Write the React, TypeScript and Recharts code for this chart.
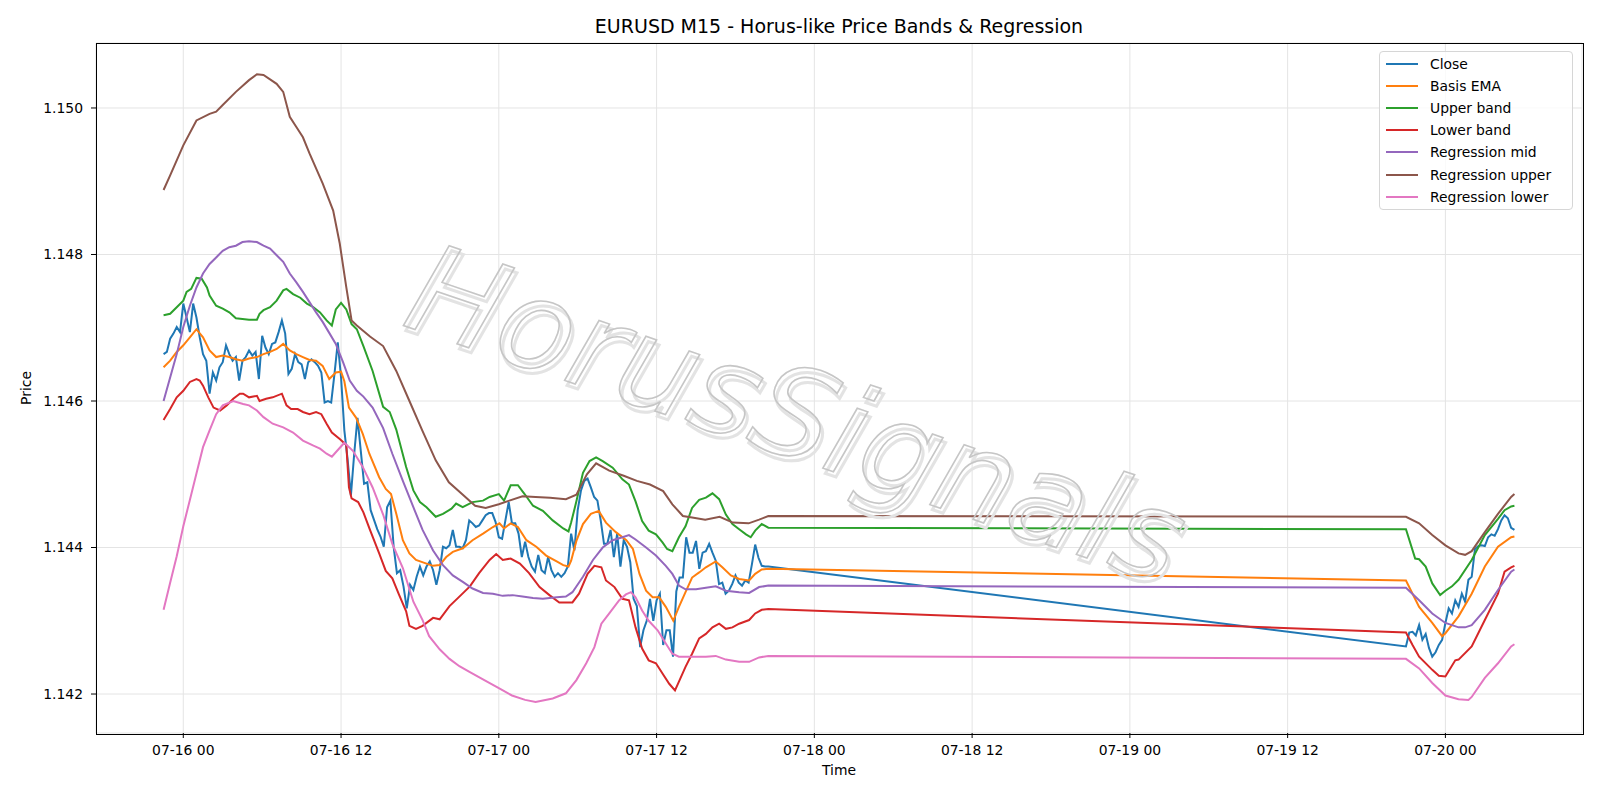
import React from 'react';
import { LineChart, Line, XAxis, YAxis, CartesianGrid } from 'recharts';

// x = hours since 07-16 00:00, y = price
const closeSeries: [number, number][] = [
  [-1.5, 1.14664], [-1.25, 1.14667], [-1, 1.14685], [-0.75, 1.14692], [-0.5, 1.14701], [-0.25, 1.14694],
  [0, 1.14733], [0.25, 1.14714], [0.5, 1.14694], [0.75, 1.14733], [1, 1.14714], [1.25, 1.14687], [1.5, 1.14664], [1.75, 1.14655],
  [2, 1.1461], [2.25, 1.14639], [2.5, 1.14628], [2.75, 1.14646], [3, 1.14653], [3.25, 1.14676], [3.5, 1.14664], [3.75, 1.14655],
  [4, 1.1466], [4.25, 1.14628], [4.5, 1.14655], [4.75, 1.1466], [5, 1.14669], [5.25, 1.14662], [5.5, 1.14667], [5.75, 1.1463],
  [6, 1.14689], [6.25, 1.14673], [6.5, 1.14664], [6.75, 1.14678], [7, 1.1468], [7.25, 1.14694], [7.5, 1.1471], [7.75, 1.14692],
  [8, 1.14637], [8.25, 1.14644], [8.5, 1.14664], [8.75, 1.14653], [9, 1.1465], [9.25, 1.1463], [9.5, 1.14653], [9.75, 1.14657],
  [10, 1.14653], [10.25, 1.14648], [10.5, 1.14639], [10.75, 1.14598], [11, 1.146], [11.25, 1.14598], [11.5, 1.14637], [11.75, 1.1468],
  [12, 1.14632], [12.25, 1.1456], [12.5, 1.1452], [12.75, 1.14471], [13, 1.14528], [13.25, 1.14577], [13.5, 1.14532], [13.75, 1.14487],
  [14, 1.14489], [14.25, 1.14451], [14.5, 1.14438], [14.75, 1.14425], [15, 1.14415], [15.25, 1.14401], [15.5, 1.14455], [15.75, 1.14464],
  [16, 1.14401], [16.25, 1.14365], [16.5, 1.14369], [16.75, 1.14347], [17, 1.14317], [17.25, 1.14349], [17.5, 1.14342], [17.75, 1.1436],
  [18, 1.14374], [18.25, 1.14362], [18.5, 1.14374], [18.75, 1.14381], [19, 1.14369], [19.25, 1.14349], [19.5, 1.14369], [19.75, 1.14401],
  [20, 1.14399], [20.25, 1.14403], [20.5, 1.14424], [20.75, 1.14401], [21, 1.14401], [21.25, 1.14399], [21.5, 1.1441], [21.75, 1.14437],
  [22, 1.14433], [22.25, 1.14428], [22.5, 1.1443], [22.75, 1.14437], [23, 1.14444], [23.25, 1.14447], [23.5, 1.14447], [23.75, 1.14435],
  [24, 1.14414], [24.25, 1.14412], [24.5, 1.14437], [24.75, 1.14462], [25, 1.14433], [25.25, 1.14433], [25.5, 1.14419], [25.75, 1.14387],
  [26, 1.14408], [26.25, 1.14387], [26.5, 1.14374], [26.75, 1.14367], [27, 1.1439], [27.25, 1.14369], [27.5, 1.14365], [27.75, 1.14387],
  [28, 1.14369], [28.25, 1.1436], [28.5, 1.14365], [28.75, 1.1436], [29, 1.14365], [29.25, 1.14374], [29.5, 1.14419], [29.75, 1.14396],
  [30, 1.14451], [30.25, 1.14478], [30.5, 1.14491], [30.75, 1.14494], [31, 1.14482], [31.25, 1.14469], [31.5, 1.14464], [31.75, 1.14437],
  [32, 1.14405], [32.25, 1.14405], [32.5, 1.14424], [32.75, 1.14387], [33, 1.14419], [33.25, 1.14374], [33.5, 1.1441], [33.75, 1.14401],
  [34, 1.1438], [34.25, 1.1433], [34.5, 1.1432], [34.75, 1.14264], [35, 1.14287], [35.25, 1.143], [35.5, 1.1433], [35.75, 1.143],
  [36, 1.14328], [36.25, 1.14337], [36.5, 1.14267], [36.75, 1.14287], [37, 1.14287], [37.25, 1.14251], [37.5, 1.1434], [37.75, 1.14359],
  [38, 1.14359], [38.25, 1.14414], [38.5, 1.14393], [38.75, 1.14393], [39, 1.14409], [39.25, 1.14371], [39.5, 1.14393], [39.75, 1.14395],
  [40, 1.14405], [40.25, 1.14393], [40.5, 1.14382], [40.75, 1.1435], [41, 1.14352], [41.25, 1.14337], [41.5, 1.14341], [41.75, 1.1435],
  [42, 1.14362], [42.25, 1.14352], [42.5, 1.14348], [42.75, 1.14355], [43, 1.14352], [43.25, 1.14377], [43.5, 1.14404], [43.75, 1.14386],
  [44, 1.14375], [44.25, 1.14374], [44.5, 1.14374],
  [93, 1.14265], [93.25, 1.14284], [93.5, 1.14285], [93.75, 1.1428], [94, 1.14294], [94.25, 1.14274], [94.5, 1.14282], [94.75, 1.14263],
  [95, 1.14251], [95.25, 1.14257], [95.5, 1.14267], [95.75, 1.14274], [96, 1.14297], [96.25, 1.14317], [96.5, 1.1431], [96.75, 1.14328],
  [97, 1.14319], [97.25, 1.14337], [97.5, 1.14326], [97.75, 1.14356], [98, 1.1436], [98.25, 1.14398], [98.5, 1.14402], [98.75, 1.14403],
  [99, 1.14402], [99.25, 1.14414], [99.5, 1.14418], [99.75, 1.14416], [100, 1.14425], [100.25, 1.14437], [100.5, 1.14444], [100.75, 1.1444],
  [101, 1.14427], [101.25, 1.14424],
];

const basisEma: [number, number][] = [
  [-1.5, 1.14646], [-1, 1.14655], [-0.5, 1.14667], [0, 1.14676], [0.5, 1.14687], [1, 1.14698], [1.5, 1.14687], [2, 1.14669],
  [2.5, 1.1466], [3, 1.14662], [3.5, 1.1466], [4, 1.14657], [4.5, 1.14655], [5, 1.14658], [5.6, 1.1466], [6.1, 1.14664],
  [6.6, 1.14667], [7.1, 1.14671], [7.6, 1.14678], [8.1, 1.14669], [8.6, 1.14664], [9.1, 1.1466], [9.6, 1.14656], [10.1, 1.14655],
  [10.6, 1.14648], [11.1, 1.1463], [11.6, 1.14639], [12, 1.1464], [12.25, 1.14627], [12.6, 1.14591], [13.15, 1.14577], [13.65, 1.14555],
  [14.15, 1.14528], [14.9, 1.14496], [15.4, 1.1448], [15.8, 1.14473], [16.2, 1.14446], [16.7, 1.1441], [17.2, 1.14392], [17.7, 1.14383],
  [18.5, 1.14378], [19, 1.14375], [19.5, 1.14376], [20, 1.14387], [20.5, 1.14394], [21.26, 1.14399], [22, 1.1441], [22.8, 1.14419],
  [23.55, 1.14428], [24.05, 1.14433], [24.4, 1.14426], [24.9, 1.14433], [25.45, 1.14428], [26.1, 1.1441], [26.85, 1.14401], [27.6, 1.14389],
  [28.4, 1.14381], [28.9, 1.14376], [29.3, 1.14374], [29.5, 1.14382], [29.9, 1.14409], [30.4, 1.14432], [31, 1.14446], [31.6, 1.1445],
  [32.15, 1.14434], [32.9, 1.14421], [33.7, 1.1441], [34.2, 1.14398], [34.7, 1.14364], [35.2, 1.14341], [35.7, 1.14332], [36.2, 1.14332],
  [36.7, 1.14319], [37.27, 1.143], [37.7, 1.14319], [38.2, 1.14339], [38.7, 1.14359], [39.24, 1.14366], [39.75, 1.14373], [40.5, 1.14381],
  [41, 1.14373], [41.65, 1.14362], [42.28, 1.14357], [43.04, 1.14355], [43.5, 1.14364], [44, 1.1437], [44.5, 1.14371],
  [93, 1.14355], [94, 1.14319], [95, 1.14297], [95.75, 1.14279], [96, 1.14283], [97, 1.14306], [98, 1.14337], [99, 1.14374],
  [100, 1.14401], [101, 1.14414], [101.25, 1.14415],
];

const upperBand: [number, number][] = [
  [-1.5, 1.14717], [-1, 1.14719], [-0.5, 1.14728], [0, 1.14737], [0.25, 1.14749], [0.6, 1.14753], [1, 1.14768], [1.4, 1.14767],
  [1.8, 1.14755], [2, 1.14744], [2.5, 1.1473], [3, 1.14726], [3.5, 1.14721], [4, 1.14713], [4.5, 1.14712], [5, 1.14711],
  [5.6, 1.14711], [5.8, 1.14719], [6.1, 1.14724], [6.6, 1.14728], [7.1, 1.14737], [7.6, 1.14751], [7.85, 1.14753], [8.35, 1.14746],
  [8.9, 1.14741], [9.4, 1.14733], [9.9, 1.14728], [10.4, 1.14721], [10.9, 1.1471], [11.3, 1.14703], [11.6, 1.14725], [12, 1.14734],
  [12.4, 1.14725], [12.8, 1.14705], [13.2, 1.14698], [13.7, 1.14675], [14.4, 1.14641], [15.2, 1.14592], [15.7, 1.14585], [16.2, 1.14561],
  [16.95, 1.1451], [17.5, 1.14478], [18, 1.14462], [18.5, 1.14455], [19.2, 1.14442], [19.75, 1.14446], [20.4, 1.14453], [20.75, 1.1446],
  [21.25, 1.14455], [22, 1.14462], [22.8, 1.14464], [23.3, 1.14469], [24, 1.14473], [24.4, 1.14464], [24.9, 1.14485], [25.45, 1.14485],
  [25.96, 1.14473], [26.6, 1.14457], [27.35, 1.1445], [28.1, 1.14437], [28.9, 1.14426], [29.3, 1.14422], [29.5, 1.14434], [29.9, 1.14463],
  [30.4, 1.14502], [30.9, 1.14518], [31.4, 1.14523], [31.9, 1.14518], [32.66, 1.14509], [33.4, 1.14493], [33.9, 1.14486], [34.4, 1.14463],
  [34.9, 1.14436], [35.4, 1.14423], [35.95, 1.14418], [36.45, 1.14407], [36.8, 1.14398], [37.2, 1.14395], [37.7, 1.14414], [38.2, 1.14429],
  [38.7, 1.14454], [39.24, 1.14465], [39.75, 1.14468], [40.25, 1.14474], [40.76, 1.14466], [41.27, 1.14445], [41.77, 1.14432], [42.28, 1.14425],
  [42.8, 1.14418], [43.16, 1.14414], [43.5, 1.14423], [44, 1.14432], [44.5, 1.14427],
  [93, 1.14425], [93.7, 1.14385], [94, 1.14384], [94.5, 1.14374], [95, 1.14351], [95.6, 1.14335], [96, 1.14341], [96.5, 1.14347],
  [97, 1.14356], [98, 1.14383], [99, 1.14417], [100, 1.14439], [100.5, 1.14451], [101, 1.14456], [101.25, 1.14457],
];

const lowerBand: [number, number][] = [
  [-1.5, 1.14574], [-1, 1.14589], [-0.5, 1.14605], [0, 1.14614], [0.5, 1.14626], [1, 1.1463], [1.25, 1.14628], [1.5, 1.14621],
  [1.9, 1.14605], [2.3, 1.14591], [2.8, 1.14587], [3.3, 1.14594], [3.8, 1.14603], [4.3, 1.1461], [4.55, 1.1461], [5, 1.14605],
  [5.6, 1.14607], [5.8, 1.146], [6.3, 1.14603], [6.8, 1.14605], [7.5, 1.1461], [7.85, 1.14594], [8.2, 1.14589], [8.7, 1.14589],
  [9.1, 1.14585], [9.6, 1.14582], [10.1, 1.14585], [10.5, 1.14582], [10.9, 1.14569], [11.3, 1.14557], [11.9, 1.14548], [12.4, 1.1454],
  [12.6, 1.14482], [12.8, 1.14467], [13.3, 1.14462], [13.7, 1.14448], [14.2, 1.14424], [14.9, 1.14392], [15.4, 1.14368], [15.9, 1.14358],
  [16.4, 1.14336], [16.95, 1.14313], [17.2, 1.14293], [17.7, 1.14289], [18.2, 1.14293], [19, 1.14304], [19.5, 1.14302], [20.25, 1.1432],
  [21, 1.14333], [21.8, 1.14347], [22.5, 1.14365], [23.3, 1.14383], [23.8, 1.14391], [24.3, 1.14383], [24.9, 1.14385], [25.6, 1.14378],
  [26.3, 1.14365], [27.1, 1.14346], [27.85, 1.14335], [28.6, 1.14325], [29.6, 1.14325], [30.1, 1.14337], [30.75, 1.14364], [31.27, 1.14375],
  [31.8, 1.14373], [32.15, 1.14355], [32.8, 1.14346], [33.4, 1.1433], [33.9, 1.14328], [34.4, 1.14291], [34.9, 1.14262], [35.4, 1.14246],
  [35.95, 1.14242], [36.45, 1.14228], [36.96, 1.14214], [37.4, 1.14205], [37.7, 1.14217], [38.2, 1.14237], [38.7, 1.14255], [39.24, 1.14276],
  [39.75, 1.14282], [40.25, 1.14291], [40.76, 1.14296], [41.27, 1.14289], [41.77, 1.14291], [42.28, 1.14296], [43.04, 1.14301], [43.5, 1.1431],
  [44, 1.14315], [44.5, 1.14316],
  [93, 1.14284], [93.5, 1.14267], [94, 1.14251], [95, 1.14233], [95.5, 1.14225], [96, 1.14224], [96.75, 1.14246], [97, 1.14247],
  [98, 1.14265], [99, 1.14301], [100, 1.14337], [100.5, 1.14367], [101, 1.14373], [101.25, 1.14375],
];

const regMid: [number, number][] = [
  [-1.5, 1.146], [-0.5, 1.14664], [0, 1.14701], [0.5, 1.1473], [1, 1.14755], [1.5, 1.14774], [2, 1.14787], [2.5, 1.14796],
  [3, 1.14805], [3.5, 1.1481], [4, 1.14812], [4.5, 1.14817], [5, 1.14818], [5.6, 1.14817], [6.1, 1.14812], [6.6, 1.14808],
  [7.1, 1.14799], [7.6, 1.1479], [8.1, 1.14774], [8.6, 1.14762], [9.1, 1.14749], [9.6, 1.14735], [10.1, 1.14721], [10.6, 1.14708],
  [11.1, 1.14693], [11.6, 1.14678], [12.15, 1.14653], [12.66, 1.14628], [13.2, 1.14614], [13.7, 1.14606], [14.4, 1.14591], [15.2, 1.14563],
  [15.9, 1.14528], [16.7, 1.14491], [17.5, 1.14455], [18.2, 1.14424], [19, 1.14396], [19.75, 1.14376], [20.5, 1.14362], [21.26, 1.14353],
  [22, 1.14344], [22.8, 1.14338], [23.55, 1.14337], [24.3, 1.14334], [25.05, 1.14335], [25.8, 1.14333], [26.6, 1.14331], [27.35, 1.1433],
  [28.4, 1.14332], [29.1, 1.14333], [29.6, 1.14339], [30.4, 1.1436], [31.16, 1.14383], [31.9, 1.144], [32.66, 1.1441], [33.4, 1.14414],
  [33.9, 1.14417], [34.4, 1.14411], [35.2, 1.144], [35.95, 1.14389], [36.7, 1.14375], [37.2, 1.14364], [37.7, 1.14348], [38.2, 1.14343],
  [39, 1.14343], [39.75, 1.14345], [40.5, 1.14347], [41.27, 1.14341], [42.28, 1.14339], [43.04, 1.14338], [43.8, 1.14346], [44.5, 1.14348],
  [93, 1.14345], [94, 1.14328], [95, 1.1431], [96, 1.14297], [97, 1.14291], [97.5, 1.14291], [98, 1.14294], [99, 1.14315],
  [100, 1.14342], [101, 1.14367], [101.25, 1.1437],
];

const regUpper: [number, number][] = [
  [-1.5, 1.14888], [-1, 1.14908], [0, 1.14949], [1, 1.14983], [2, 1.14992], [2.5, 1.14995], [3, 1.15004], [4, 1.15022],
  [5, 1.15038], [5.6, 1.15046], [6.1, 1.15045], [7.1, 1.15033], [7.6, 1.15022], [8.1, 1.14988], [8.6, 1.14974], [9.1, 1.1496],
  [9.6, 1.14938], [10.6, 1.14897], [11.4, 1.1486], [11.9, 1.14815], [12.4, 1.14755], [12.8, 1.1471], [13.2, 1.14703], [14.2, 1.14688],
  [15.2, 1.14675], [16.2, 1.14641], [17.2, 1.146], [18.2, 1.14559], [19.2, 1.14519], [20.2, 1.14489], [21.2, 1.14473], [22.2, 1.14457],
  [23, 1.14454], [24, 1.14459], [24.8, 1.14464], [25.8, 1.1447], [26.8, 1.14469], [27.9, 1.14468], [29.1, 1.14466], [29.9, 1.14472],
  [30.7, 1.145], [31.4, 1.14515], [32.4, 1.14505], [33.5, 1.14498], [34.5, 1.14491], [35.5, 1.14486], [36.5, 1.14477], [37.2, 1.14459],
  [38, 1.14443], [38.7, 1.14441], [39.7, 1.14438], [40.8, 1.14442], [41.8, 1.14434], [43, 1.14433], [43.8, 1.14438], [44.5, 1.14443],
  [93, 1.14442], [94, 1.14433], [95, 1.14417], [96, 1.14403], [97, 1.14392], [97.5, 1.1439], [98, 1.14395], [99, 1.14421],
  [100, 1.14446], [101, 1.14469], [101.25, 1.14473],
];

const regLower: [number, number][] = [
  [-1.5, 1.14315], [-1, 1.14352], [-0.5, 1.14388], [0, 1.14429], [0.5, 1.14465], [1, 1.14501], [1.5, 1.14537], [2, 1.1456],
  [2.5, 1.14582], [3, 1.14594], [3.8, 1.146], [4.55, 1.14596], [5, 1.14594], [5.6, 1.14587], [6.1, 1.14578], [6.8, 1.14569],
  [7.6, 1.14564], [8.35, 1.14557], [9.1, 1.14546], [9.9, 1.14539], [10.4, 1.14535], [10.9, 1.14528], [11.3, 1.14524], [11.6, 1.1453],
  [12.25, 1.14543], [12.9, 1.14532], [13.65, 1.1451], [14.4, 1.14482], [15.2, 1.14445], [15.9, 1.14405], [16.7, 1.14372], [17.5, 1.14326],
  [18.2, 1.14301], [18.7, 1.14279], [19.5, 1.14261], [20.25, 1.14248], [21, 1.14238], [21.8, 1.1423], [23, 1.14218], [24, 1.14208],
  [25, 1.14198], [26, 1.14192], [26.8, 1.14189], [28.1, 1.14194], [29.1, 1.14201], [29.9, 1.14219], [30.65, 1.14242], [31.27, 1.14264],
  [31.8, 1.14296], [32.4, 1.1431], [33.16, 1.14328], [33.67, 1.14336], [34.05, 1.14339], [34.4, 1.14332], [34.9, 1.14314], [35.4, 1.143],
  [36.08, 1.14287], [36.7, 1.14269], [37.2, 1.14255], [37.7, 1.14251], [38.7, 1.14251], [39.75, 1.14251], [40.5, 1.14252], [41.27, 1.14247],
  [42.28, 1.14244], [43.04, 1.14244], [43.8, 1.1425], [44.5, 1.14252],
  [93, 1.14248], [94, 1.14235], [95, 1.14215], [96, 1.14198], [97, 1.14193], [97.75, 1.14192], [98, 1.14196], [99, 1.14222],
  [100, 1.14242], [101, 1.14265], [101.25, 1.14268],
];

const seriesNames = ['Close', 'Basis EMA', 'Upper band', 'Lower band', 'Regression mid', 'Regression upper', 'Regression lower'];
const seriesColors = ['#1f77b4', '#ff7f0e', '#2ca02c', '#d62728', '#9467bd', '#8c564b', '#e377c2'];
const seriesPoints = [closeSeries, basisEma, upperBand, lowerBand, regMid, regUpper, regLower];

const xTicks = [0, 12, 24, 36, 48, 60, 72, 84, 96];
const yTicks = [1.142, 1.144, 1.146, 1.148, 1.15];

const TITLE = 'EURUSD M15 - Horus-like Price Bands & Regression';
const WATERMARK = 'HorusSignals';

const FONT = "'DejaVu Sans', sans-serif";

// plot box (px) — matches matplotlib axes position
const PLOT = { left: 96, top: 43, right: 1582, bottom: 733 };

function formatTime(h: number): string {
  const day = 16 + Math.floor(h / 24);
  const hour = h - (day - 16) * 24;
  return `07-${day} ${String(hour).padStart(2, '0')}`;
}

function toRows(points: [number, number][]) {
  return points.map(([t, v]) => ({ t, v }));
}

function LegendBox() {
  return (
    <div
      style={{
        position: 'absolute',
        left: 1379,
        top: 51,
        width: 194,
        height: 159,
        boxSizing: 'border-box',
        border: '1px solid #d6d6d6',
        borderRadius: 4,
        background: 'rgba(255,255,255,0.8)',
        fontFamily: FONT,
        fontSize: 13.9,
        color: '#000',
      }}
    >
      {seriesNames.map((name, i) => (
        <div
          key={name}
          style={{ position: 'absolute', left: 0, top: 1 + i * 22.1, height: 22, display: 'flex', alignItems: 'center' }}
        >
          <div style={{ marginLeft: 6, width: 32, height: 2, background: seriesColors[i] }} />
          <span style={{ marginLeft: 12, whiteSpace: 'nowrap' }}>{name}</span>
        </div>
      ))}
    </div>
  );
}

function Watermark() {
  const common = {
    textAnchor: 'middle' as const,
    dominantBaseline: 'central' as const,
    fontFamily: FONT,
    fontStyle: 'italic',
    fontSize: 124,
    fill: 'none',
  };
  return (
    <svg width={1600} height={800} style={{ position: 'absolute', left: 0, top: 0, pointerEvents: 'none' }}>
      <g transform="translate(797,414) rotate(18.8)">
        <text {...common} x={4} y={4} stroke="#e3e3e3" strokeWidth={3}>
          {WATERMARK}
        </text>
        <text {...common} stroke="#c6c6c6" strokeWidth={1.6}>
          {WATERMARK}
        </text>
      </g>
    </svg>
  );
}

export default function App() {
  return (
    <div style={{ position: 'absolute', left: 0, top: 0, width: 1600, height: 800, background: '#fff', fontFamily: FONT }}>
      <div style={{ position: 'absolute', left: 0, top: 0 }}>
        <LineChart
          width={1600}
          height={800}
          margin={{ top: PLOT.top, right: 1600 - PLOT.right, bottom: 800 - PLOT.bottom - 30, left: PLOT.left - 60 }}
        >
          <CartesianGrid stroke="#e4e4e4" strokeWidth={1} />
          <XAxis
            dataKey="t"
            type="number"
            domain={[-6.64, 106.39]}
            allowDataOverflow
            ticks={xTicks}
            tickFormatter={formatTime}
            height={30}
            axisLine={false}
            tickLine={{ stroke: '#000' }}
            tickSize={5}
            tickMargin={7}
            tick={{ fill: '#000', fontSize: 13.9, fontFamily: FONT }}
          />
          <YAxis
            type="number"
            domain={[1.141468, 1.150887]}
            allowDataOverflow
            ticks={yTicks}
            tickFormatter={(v: number) => v.toFixed(3)}
            width={60}
            axisLine={false}
            tickLine={{ stroke: '#000' }}
            tickSize={5}
            tickMargin={8}
            tick={{ fill: '#000', fontSize: 13.9, fontFamily: FONT }}
          />
          {seriesPoints.map((pts, i) => (
            <Line
              key={seriesNames[i]}
              data={toRows(pts)}
              dataKey="v"
              name={seriesNames[i]}
              type="linear"
              stroke={seriesColors[i]}
              strokeWidth={2}
              dot={false}
              activeDot={false}
              isAnimationActive={false}
            />
          ))}
        </LineChart>
      </div>
      <Watermark />
      {/* axes frame */}
      <div
        style={{
          position: 'absolute',
          left: PLOT.left - 0.5,
          top: PLOT.top - 0.5,
          width: PLOT.right - PLOT.left,
          height: PLOT.bottom - PLOT.top,
          border: '1px solid #000',
          pointerEvents: 'none',
        }}
      />
      <div
        style={{
          position: 'absolute',
          left: PLOT.left,
          width: PLOT.right - PLOT.left,
          top: 15,
          textAlign: 'center',
          fontSize: 19,
          color: '#000',
          whiteSpace: 'nowrap',
        }}
      >
        {TITLE}
      </div>
      <div
        style={{
          position: 'absolute',
          left: PLOT.left,
          width: PLOT.right - PLOT.left,
          top: 762,
          textAlign: 'center',
          fontSize: 13.9,
          color: '#000',
        }}
      >
        Time
      </div>
      <div
        style={{
          position: 'absolute',
          left: 26,
          top: (PLOT.top + PLOT.bottom) / 2,
          transform: 'translate(-50%, -50%) rotate(-90deg)',
          fontSize: 13.9,
          color: '#000',
        }}
      >
        Price
      </div>
      <LegendBox />
    </div>
  );
}
